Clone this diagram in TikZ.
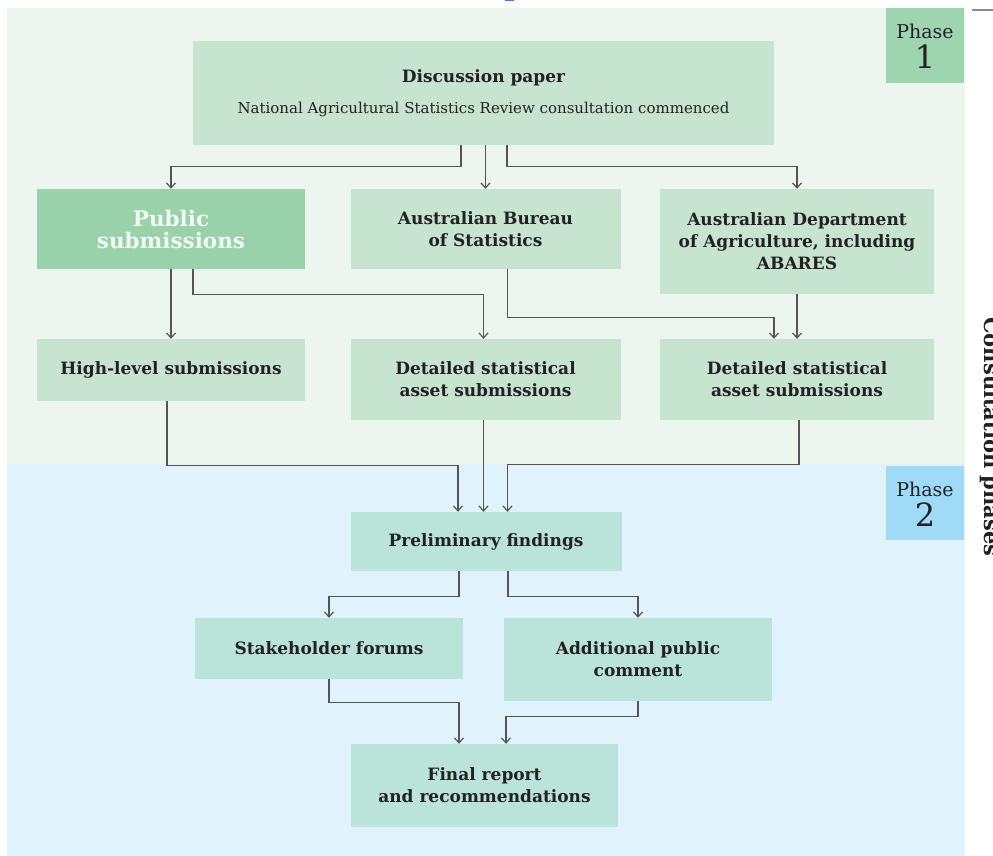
\documentclass[tikz,border=0pt]{standalone}
\usepackage{fontspec}
\setmainfont{DejaVu Serif}
\usetikzlibrary{arrows.meta}
\definecolor{bgone}{HTML}{EDF6EE}
\definecolor{bgtwo}{HTML}{E0F2FC}
\definecolor{boxone}{HTML}{C6E4CF}
\definecolor{boxtwo}{HTML}{BAE3D9}
\definecolor{pubfill}{HTML}{99D1AB}
\definecolor{pubtext}{HTML}{F2F9F2}
\definecolor{tagone}{HTML}{9FD4B0}
\definecolor{tagtwo}{HTML}{9FDAF6}
\definecolor{txt}{HTML}{222222}
\definecolor{linec}{HTML}{555555}
\definecolor{titleblue}{HTML}{4A7CC0}
\definecolor{rulegray}{HTML}{8A8A8A}
\begin{document}
\begin{tikzpicture}[x=1pt,y=-1pt,
  box/.style={fill=boxone, inner sep=0pt, align=center, text=txt,
    font=\bfseries\fontsize{17}{22}\selectfont},
  boxb/.style={box, fill=boxtwo},
  tagbox/.style={inner sep=0pt, align=center, text=txt},
  arr/.style={draw=linec, line width=1.2pt, -{Straight Barb[length=5pt,width=9pt]}}]
\useasboundingbox (0,0) rectangle (993,856);
\clip (0,0) rectangle (993,856);
% backgrounds
\fill[bgone] (7,8) rectangle (965,464);
\fill[bgtwo] (7,464) rectangle (965,856);
\fill[titleblue] (505,0) rectangle (514,1.5);
\draw[rulegray, line width=1.5pt] (972,10) -- (993,10);
% phase tags
\node[fill=tagone, minimum width=78pt, minimum height=75pt, inner sep=0pt] (tag1) at (925,45.5) {};
\node[tagbox, font=\fontsize{19}{19}\selectfont] (tag1a) at (925,31) {Phase};
\node[tagbox, font=\fontsize{32}{32}\selectfont] (tag1b) at (925,57) {1};
\node[fill=tagtwo, minimum width=78pt, minimum height=74pt, inner sep=0pt] (tag2) at (925,503) {};
\node[tagbox, font=\fontsize{19}{19}\selectfont] (tag2a) at (925,489) {Phase};
\node[tagbox, font=\fontsize{32}{32}\selectfont] (tag2b) at (925,515) {2};
% side label
\node[rotate=-90, anchor=base west, inner sep=0pt, text=txt,
  font=\bfseries\fontsize{21}{21}\selectfont] (side) at (984,317) {Consultation phases};
% boxes
\node[box, minimum width=581pt, minimum height=104pt] (disc) at (483.5,93)
  {Discussion paper\\[9pt]{\normalfont\fontsize{15}{18}\selectfont National Agricultural Statistics Review consultation commenced}};
\node[box, fill=pubfill, text=pubtext, font=\bfseries\fontsize{21.5}{22}\selectfont,
  minimum width=268pt, minimum height=80pt] (pub) at (171,229) {Public\\submissions};
\node[box, minimum width=270pt, minimum height=80pt] (abs) at (485.5,229) {Australian Bureau\\of Statistics};
\node[box, minimum width=274pt, minimum height=105pt] (ag) at (797,241.5) {Australian Department\\of Agriculture, including\\ABARES};
\node[box, minimum width=268pt, minimum height=62pt] (high) at (171,370) {High-level submissions};
\node[box, minimum width=270pt, minimum height=81pt] (det1) at (485.5,379.5) {Detailed statistical\\asset submissions};
\node[box, minimum width=274pt, minimum height=81pt] (det2) at (797,379.5) {Detailed statistical\\asset submissions};
\node[boxb, minimum width=271pt, minimum height=59pt] (prelim) at (486,541.5) {Preliminary findings};
\node[boxb, minimum width=268pt, minimum height=61pt] (stake) at (329,648.5) {Stakeholder forums};
\node[boxb, minimum width=268pt, minimum height=83pt] (addl) at (638,659.5) {Additional public\\comment};
\node[boxb, minimum width=267pt, minimum height=83pt] (final) at (484.5,785.5) {Final report\\and recommendations};
% connectors
\draw[arr] ([xshift=-22.5pt]disc.south) -- ++(0,21) -| (pub.north);
\draw[arr] (disc.south -| abs.north) -- (abs.north);
\draw[arr] ([xshift=23.5pt]disc.south) -- ++(0,21) -| (ag.north);
\draw[arr] (pub.south) -- (high.north);
\draw[arr] ([xshift=22pt]pub.south) -- ++(0,25) -| ([xshift=-2pt]det1.north);
\draw[arr] ([xshift=22pt]abs.south) -- ++(0,48) -| ([xshift=-23pt]det2.north);
\draw[arr] (ag.south) -- (det2.north);
\draw[arr] ([xshift=-4pt]high.south) -- ++(0,64) -| ([xshift=-28pt]prelim.north);
\draw[arr] ([xshift=-2pt]det1.south) -- ([xshift=-2.5pt]prelim.north);
\draw[arr] ([xshift=2pt]det2.south) -- ++(0,44) -| ([xshift=21.5pt]prelim.north);
\draw[arr] ([xshift=-27pt]prelim.south) -- ++(0,25) -| (stake.north);
\draw[arr] ([xshift=22pt]prelim.south) -- ++(0,25) -| (addl.north);
\draw[arr] (stake.south) -- ++(0,23) -| ([xshift=-25.5pt]final.north);
\draw[arr] (addl.south) -- ++(0,15) -| ([xshift=21.5pt]final.north);
\end{tikzpicture}
\end{document}
